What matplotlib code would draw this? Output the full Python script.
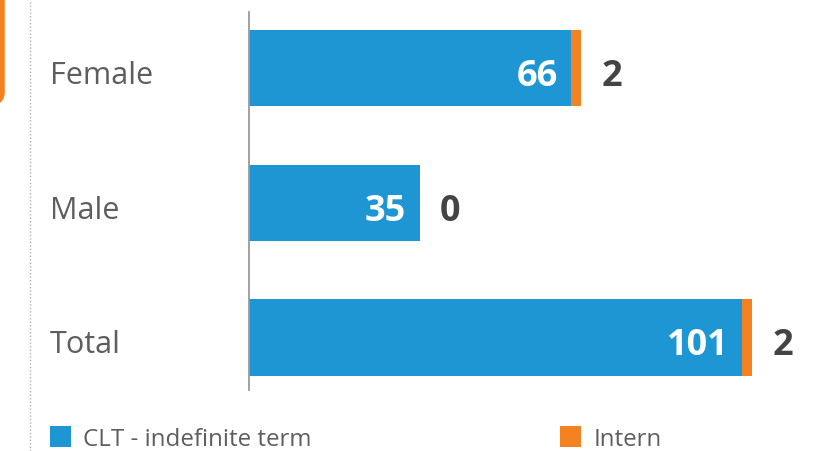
import matplotlib
matplotlib.use("Agg")
import matplotlib.pyplot as plt
from matplotlib.patches import FancyBboxPatch, Rectangle
from matplotlib.lines import Line2D
import matplotlib.transforms as mtransforms

categories = ["Female", "Male", "Total"]
clt_values = [66, 35, 101]
intern_values = [2, 0, 2]
series_names = ["CLT - indefinite term", "Intern"]

BLUE = "#1E96D3"
ORANGE = "#F58220"
GRAY_TXT = "#5e5e5e"
DARK_TXT = "#444444"

plt.rcParams['font.family'] = ['Open Sans', 'DejaVu Sans']

W, H = 830, 451
fig = plt.figure(figsize=(W / 100, H / 100), dpi=100)

ax_left = 249 / W
ax = fig.add_axes([ax_left, 1 - 390 / H, 1 - ax_left, (390 - 12) / H])

ypos = list(range(len(categories)))
ax.barh(ypos, clt_values, height=0.565, color=BLUE, linewidth=0)
ax.barh(ypos, intern_values, left=clt_values, height=0.565, color=ORANGE, linewidth=0)

ax.set_xlim(0, (W - 249) / 4.885)
ax.set_ylim(2.39, -0.415)

for s in ["top", "right", "bottom"]:
    ax.spines[s].set_visible(False)
ax.spines["left"].set_color("#9a9a9a")
ax.spines["left"].set_linewidth(1.3)
ax.set_xticks([])
ax.set_yticks([])

for y, c, i in zip(ypos, clt_values, intern_values):
    off = mtransforms.offset_copy(ax.transData, fig=fig, x=-10, y=-13, units="points")
    ax.text(c, y, str(c), transform=off, ha="right", va="baseline",
            color="white", fontsize=26, fontweight="bold")
    off2 = mtransforms.offset_copy(ax.transData, fig=fig, x=14.5, y=-13, units="points")
    ax.text(c + i, y, str(i), transform=off2, ha="left", va="baseline",
            color=DARK_TXT, fontsize=26, fontweight="bold")

# category labels, left aligned
trans = mtransforms.blended_transform_factory(fig.transFigure, ax.transData)
lab_off = mtransforms.offset_copy(trans, fig=fig, x=0, y=-11.5, units="points")
for y, cat in zip(ypos, categories):
    ax.text(50 / W, y, cat, transform=lab_off, ha="left", va="baseline",
            color=GRAY_TXT, fontsize=22, fontweight="normal")

# legend
leg_base = 1 - 446 / H
fig.patches.append(Rectangle((50 / W, 1 - 447 / H), 21 / W, 21 / H,
                             transform=fig.transFigure, color=BLUE, linewidth=0))
fig.text(83 / W, leg_base, series_names[0], ha="left", va="baseline",
         color=GRAY_TXT, fontsize=17.4, fontweight="normal")
fig.patches.append(Rectangle((560 / W, 1 - 447 / H), 21 / W, 21 / H,
                             transform=fig.transFigure, color=ORANGE, linewidth=0))
fig.text(594 / W, leg_base, series_names[1], ha="left", va="baseline",
         color=GRAY_TXT, fontsize=17.4, fontweight="normal")

# dotted divider on the left
fig.add_artist(Line2D([30 / W, 30 / W], [0, 1], transform=fig.transFigure,
                      color="#b0b0b0", linewidth=1, linestyle=(0, (1, 1.5))))

# orange rounded frame fragment at top-left
fig.patches.append(FancyBboxPatch((-60 / W, 1 - 106 / H), 62 / W, 140 / H,
                                  boxstyle="round,pad=0,rounding_size=0.03",
                                  transform=fig.transFigure, facecolor="none",
                                  edgecolor=ORANGE, linewidth=4))

fig.savefig("out.png", dpi=100)
